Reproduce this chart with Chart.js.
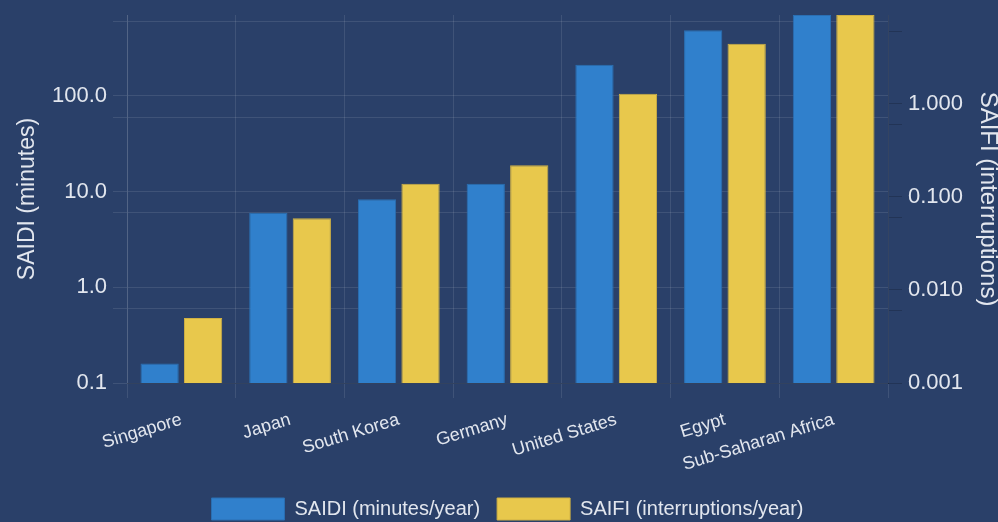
<!DOCTYPE html>
<html>
<head>
<meta charset="utf-8">
<script src="https://cdn.jsdelivr.net/npm/chart.js@4.4.1/dist/chart.umd.min.js"></script>
<style>
  html, body { margin: 0; padding: 0; background: #2a4069; }
  #wrap { width: 998px; height: 522px; }
</style>
</head>
<body>
<div id="wrap"><canvas id="reliabilityChart"></canvas></div>
<script>
// データ
const regions = ['Singapore', 'Japan', 'South Korea', 'Germany', 'United States', 'Egypt', 'Sub-Saharan Africa'];
const saidiMinutes = [0.16, 6.0, 8.3, 12.1, 212, 484, 700];
const saifiCount = [0.005, 0.059, 0.138, 0.218, 1.28, 4.43, 9];

// 目盛り（グリッド線の位置と、文字を出す値）
const saidiTicks = [0.1, 0.6, 1, 6, 10, 60, 100, 600];
const saidiLabeled = [0.1, 1, 10, 100];
const saifiTicks = [0.001, 0.006, 0.01, 0.06, 0.1, 0.6, 1, 6];
const saifiLabeled = [0.001, 0.01, 0.1, 1];

Chart.defaults.font.family = "'Liberation Sans', Arial, sans-serif";
Chart.defaults.color = '#e2e6ee';

const gridColor = 'rgba(255, 255, 255, 0.1)';

// 縦軸の上下の余白を消して、描画領域の位置を固定する
function fixYAxis(width) {
  return s => {
    s.width = width;
    s.paddingTop = 0;
    s.paddingBottom = 0;
  };
}

new Chart(document.getElementById('reliabilityChart'), {
  type: 'bar',
  data: {
    labels: regions,
    datasets: [{
      label: 'SAIDI (minutes/year)',
      data: saidiMinutes,
      yAxisID: 'y',
      backgroundColor: '#3080cc',
      borderColor: '#2a6fb3',
      borderWidth: 1,
      categoryPercentage: 0.8,
      barPercentage: 0.88
    }, {
      label: 'SAIFI (interruptions/year)',
      data: saifiCount,
      yAxisID: 'y1',
      backgroundColor: '#e8c84c',
      borderColor: '#cfb044',
      borderWidth: 1,
      categoryPercentage: 0.8,
      barPercentage: 0.88
    }]
  },
  options: {
    responsive: true,
    maintainAspectRatio: false,
    animation: false,
    layout: { padding: { top: 15, left: 0, right: 0, bottom: -8 } },
    plugins: {
      tooltip: { enabled: false },
      legend: {
        position: 'bottom',
        fullSize: false,
        labels: {
          font: { size: 20 },
          boxWidth: 73,
          boxHeight: 22,
          padding: 17
        }
      }
    },
    scales: {
      x: {
        grid: { color: gridColor, tickLength: 15 },
        border: { color: 'rgba(0, 0, 0, 0.2)' },
        ticks: { font: { size: 18 }, minRotation: 17, maxRotation: 17, autoSkip: false, padding: 11 },
        afterFit: s => { s.height = 98; }
      },
      y: {
        type: 'logarithmic',
        position: 'left',
        min: 0.1,
        max: 700,
        grid: { color: gridColor, tickLength: 14 },
        border: { color: gridColor },
        afterBuildTicks: s => { s.ticks = saidiTicks.map(v => ({ value: v })); },
        ticks: {
          autoSkip: false,
          font: { size: 22 },
          padding: 6,
          callback: v => saidiLabeled.includes(v) ? v.toFixed(1) : ''
        },
        title: { display: true, text: 'SAIDI (minutes)', font: { size: 23 }, padding: { top: 14, bottom: 0 } },
        afterFit: fixYAxis(127)
      },
      y1: {
        type: 'logarithmic',
        position: 'right',
        min: 0.001,
        max: 9,
        grid: { drawOnChartArea: false, color: 'rgba(0, 0, 0, 0.18)', tickLength: 14 },
        border: { color: 'rgba(0, 0, 0, 0.18)' },
        afterBuildTicks: s => { s.ticks = saifiTicks.map(v => ({ value: v })); },
        ticks: {
          autoSkip: false,
          font: { size: 22 },
          padding: 6,
          callback: v => saifiLabeled.includes(v) ? v.toFixed(3) : ''
        },
        title: { display: true, text: 'SAIFI (interruptions)', font: { size: 24 }, padding: { top: -4, bottom: 0 } },
        afterFit: fixYAxis(110)
      }
    }
  }
});
</script>
</body>
</html>
